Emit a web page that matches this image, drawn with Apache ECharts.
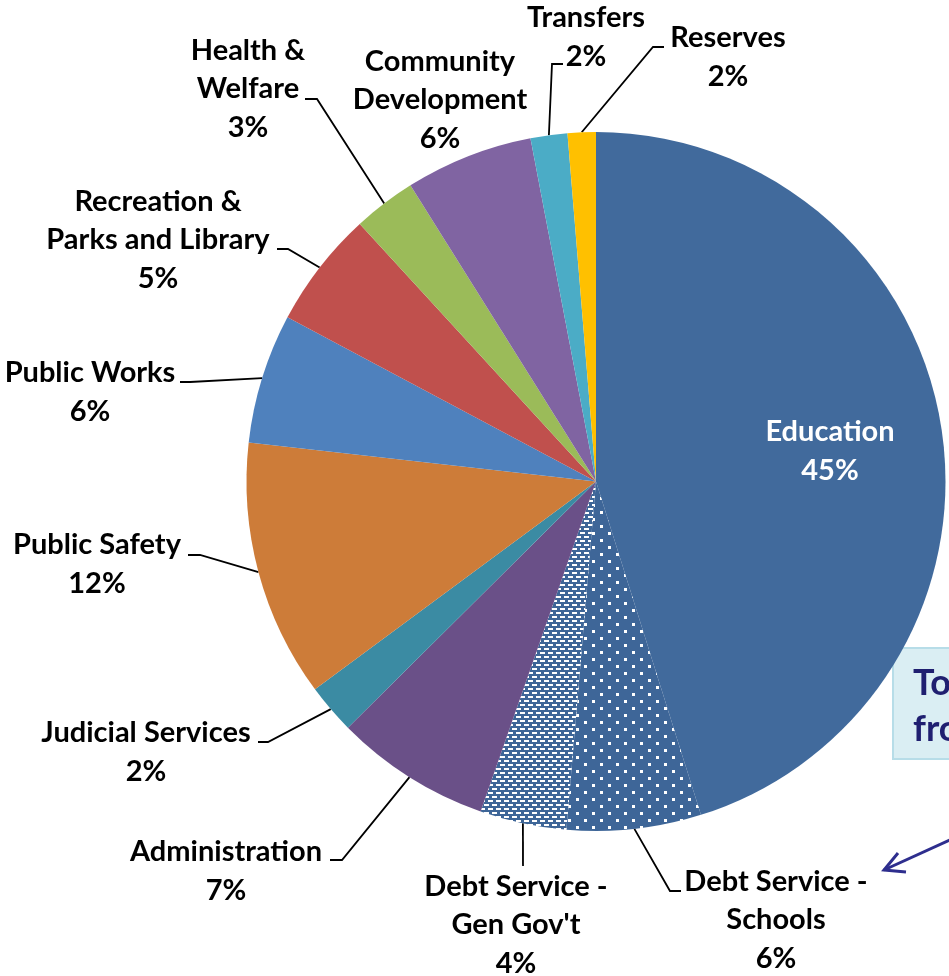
<!DOCTYPE html>
<html>
<head>
<meta charset="utf-8">
<script src="https://cdn.jsdelivr.net/npm/echarts@6/dist/echarts.min.js"></script>
<style>
html,body{margin:0;padding:0;background:#fff;}
#chart{width:949px;height:976px;}
</style>
</head>
<body>
<div id="chart"></div>
<script>
// ---- data ----
const categories = [
  'Education',
  'Debt Service -\nSchools',
  "Debt Service -\nGen Gov't",
  'Administration',
  'Judicial Services',
  'Public Safety',
  'Public Works',
  'Recreation &\nParks and Library',
  'Health &\nWelfare',
  'Community\nDevelopment',
  'Transfers',
  'Reserves'
];
const values = [45.1, 6.2, 4.0, 7.2, 2.3, 11.9, 6.0, 5.4, 2.9, 5.9, 1.7, 1.3];
const pctLabels = ['45%', '6%', '4%', '7%', '2%', '12%', '6%', '5%', '3%', '6%', '2%', '2%'];

// ---- styles / layout ----
const colors = ['#416A9C', null, null, '#6A5088', '#3B8BA3', '#CD7C39', '#4F81BD', '#C0504D', '#9BBB59', '#8064A2', '#4BACC6', '#FFC000'];

function patternSparse() {
  const c = document.createElement('canvas');
  c.width = 16; c.height = 14;
  const g = c.getContext('2d');
  g.fillStyle = '#3E6698'; g.fillRect(0, 0, 16, 14);
  g.fillStyle = '#ffffff';
  g.fillRect(0, 0, 3, 3);
  g.fillRect(8, 7, 3, 3);
  return c;
}
function patternDense() {
  const c = document.createElement('canvas');
  c.width = 8; c.height = 8;
  const g = c.getContext('2d');
  g.fillStyle = '#3E6698'; g.fillRect(0, 0, 8, 8);
  g.fillStyle = '#ffffff';
  g.fillRect(0, 0, 5, 2);
  g.fillRect(4, 4, 5, 2);
  g.fillRect(-4, 4, 5, 2);
  return c;
}
colors[1] = { image: patternSparse(), repeat: 'repeat' };
colors[2] = { image: patternDense(), repeat: 'repeat' };

// label block centers and leader-line elbow/end points
const labelPos = [
  [830, 451], [776, 920], [516, 925], [226, 871], [146, 752], [97, 564],
  [90, 392], [158, 240], [248, 89], [440, 100], [586, 37], [728, 57]
];
const lineBends = [
  null,
  [[670, 891], [681, 891]],
  [[523, 866], [523, 866]],
  [[342, 860], [330, 860]],
  [[268, 742], [258, 742]],
  [[200, 555], [188, 555]],
  [[190, 382], [180, 382]],
  [[288, 249], [277, 249]],
  [[317, 99], [305, 99]],
  null,
  [[552, 64], [563, 64]],
  [[653, 47], [664, 47]]
];

const data = categories.map((name, i) => ({
  name: name,
  value: values[i],
  itemStyle: { color: colors[i] },
  label: i === 0 ? { color: '#ffffff' } : {},
  labelLine: { show: i !== 0 && i !== 9 }
}));

const chart = echarts.init(document.getElementById('chart'), null, { renderer: 'canvas' });
chart.setOption({
  animation: false,
  backgroundColor: '#ffffff',
  series: [{
    type: 'pie',
    center: [596, 481.5],
    radius: 349.5,
    startAngle: 90,
    clockwise: true,
    avoidLabelOverlap: false,
    data: data,
    itemStyle: { borderWidth: 0 },
    emphasis: { disabled: true },
    label: {
      show: true,
      position: 'outside',
      formatter: p => p.name + '\n' + pctLabels[p.dataIndex],
      fontFamily: 'Lato',
      fontWeight: 'bold',
      fontSize: 29,
      lineHeight: 38.5,
      color: '#000000',
      align: 'center'
    },
    labelLine: {
      show: true,
      length: 20,
      length2: 10,
      lineStyle: { color: '#000000', width: 1.8 }
    },
    labelLayout: function (params) {
      const i = params.dataIndex;
      const res = { x: labelPos[i][0], y: labelPos[i][1], align: 'center', verticalAlign: 'middle' };
      if (lineBends[i] && params.labelLinePoints) {
        const p0 = params.labelLinePoints[0];
        res.labelLinePoints = [p0, lineBends[i][0], lineBends[i][1]];
      }
      return res;
    }
  }],
  graphic: [
    {
      type: 'rect',
      shape: { x: 893, y: 648, width: 90, height: 111 },
      style: { fill: '#DAEEF3', stroke: '#B7DDE8', lineWidth: 2 }
    },
    {
      type: 'text',
      style: {
        text: 'Total\nfrom',
        x: 913, y: 660,
        font: 'bold 36px Lato',
        lineHeight: 46,
        fill: '#1F1F70'
      }
    },
    {
      type: 'polyline',
      shape: { points: [[952, 839], [884, 870]] },
      style: { stroke: '#2E2E8E', lineWidth: 3, fill: null }
    },
    {
      type: 'polyline',
      shape: { points: [[898, 853], [884, 870], [906, 872]] },
      style: { stroke: '#2E2E8E', lineWidth: 3, fill: null, lineJoin: 'miter' }
    }
  ]
});
</script>
</body>
</html>
